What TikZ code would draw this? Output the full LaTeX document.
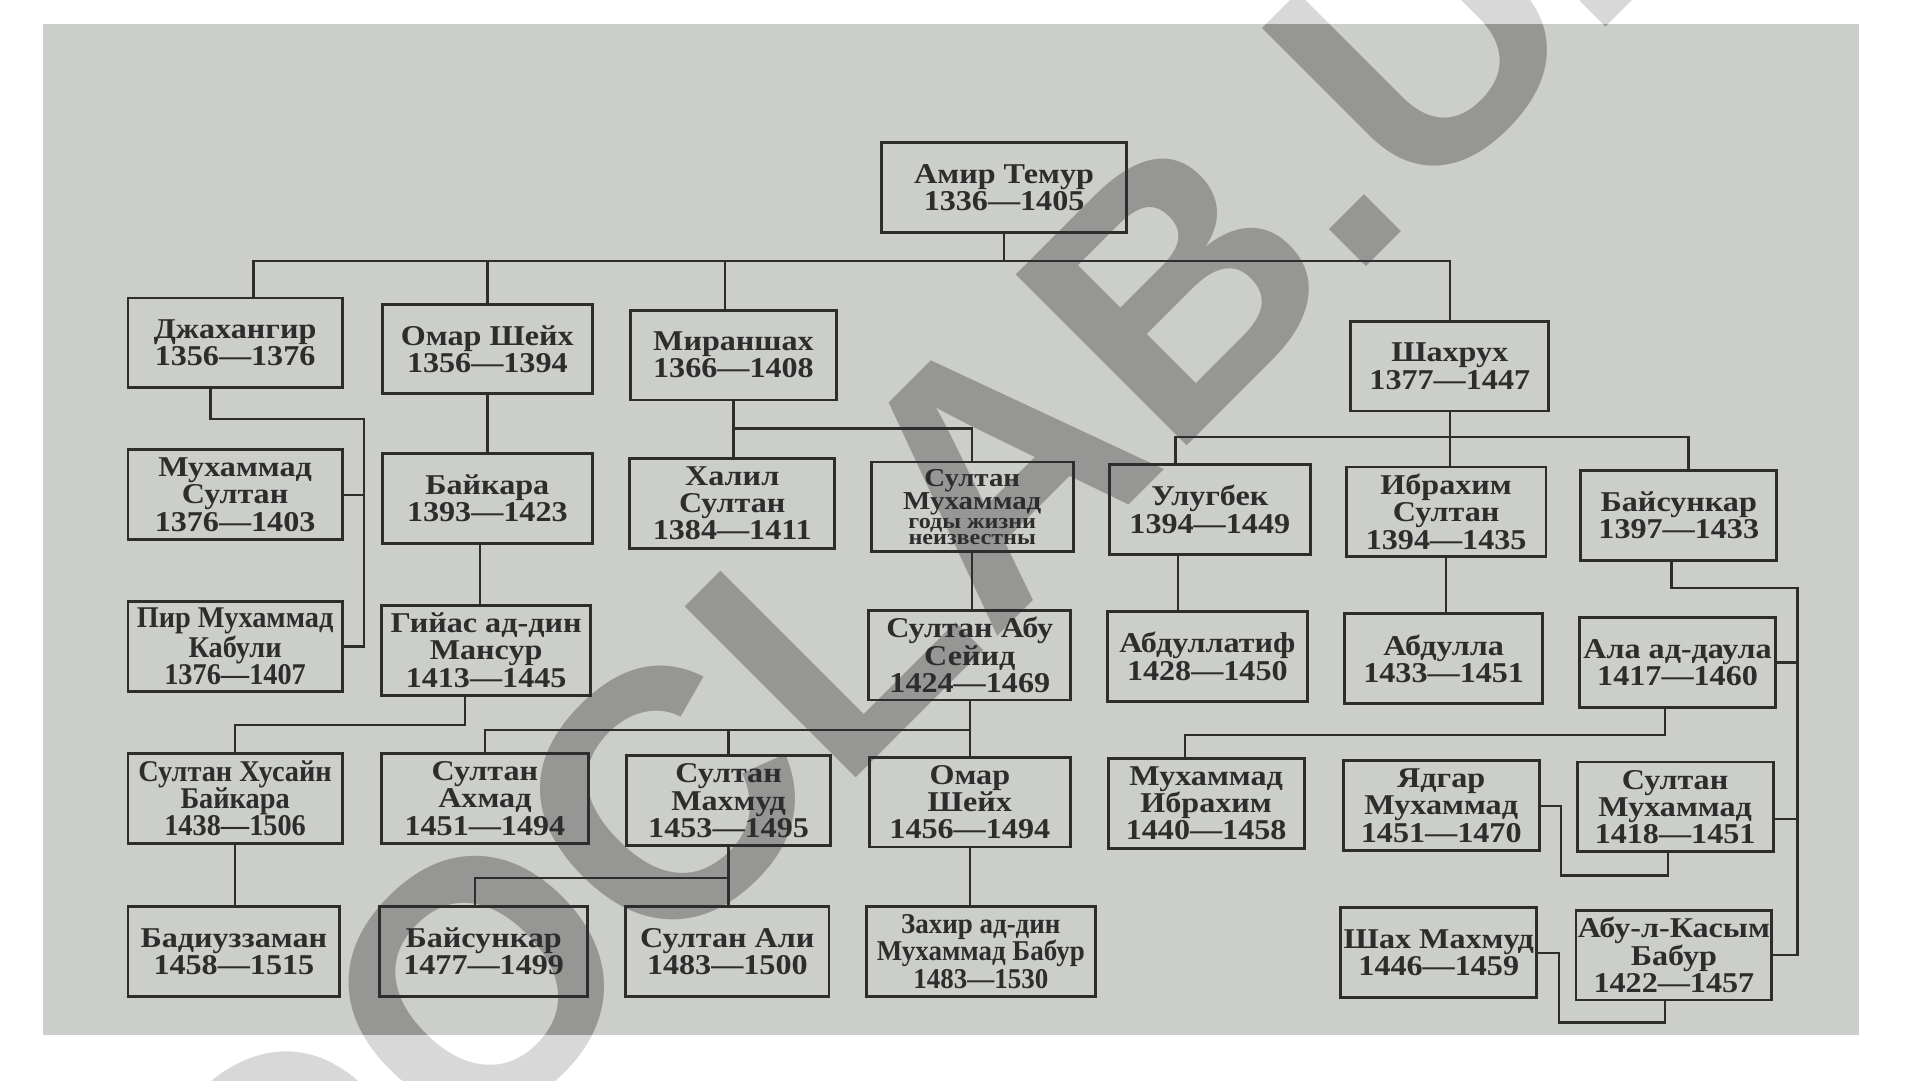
\documentclass[tikz,border=0pt]{standalone}
\usepackage{fontspec}
\setmainfont{Liberation Serif}
\newfontfamily\boxfont[FakeStretch=1.12]{Liberation Serif}
\newfontfamily\slimfont[FakeStretch=0.94]{Liberation Serif}
\newfontfamily\markfont{Liberation Sans}
\usetikzlibrary{calc}

\definecolor{paper}{RGB}{203,206,201}
\definecolor{ink}{RGB}{45,45,45}
\definecolor{wmlight}{RGB}{216,216,216}
\definecolor{wmdark}{RGB}{150,151,149}

\tikzset{
    person/.style={draw=ink, line width=2pt, text=ink, align=center, inner sep=1pt,
        minimum width=4.85cm, minimum height=2.2cm,
        font=\boxfont\bfseries\fontsize{20}{19}\selectfont},
    slim/.style={font=\slimfont\bfseries\fontsize{21}{19}\selectfont},
    link/.style={draw=ink, line width=1.6pt},
    wmark/.style={rotate=45, inner sep=0pt,
        font=\markfont\bfseries\fontsize{245}{245}\selectfont}
}

\begin{document}
\begin{tikzpicture}[x=0.03cm, y=-0.03cm]
    \useasboundingbox (0,0) rectangle (1568,882);
    \fill[white] (0,0) rectangle (1568,882);
    \begin{scope}
        \clip (0,0) rectangle (1568,882);
        \node[wmark, text=wmlight] (markA) at (762,432) {DOCLAB.UZ};
    \end{scope}
    \fill[paper] (35,20) rectangle (1518,845);
    \begin{scope}
        \clip (35,20) rectangle (1518,845);
        \node[wmark, text=wmdark] (markB) at (762,432) {DOCLAB.UZ};
    \end{scope}

    \node[person, minimum width=6cm] (amir) at (820,153) {Амир Темур\\1336—1405};

    \node[person, minimum width=5.25cm] (jahangir) at (192,280) {Джахангир\\1356—1376};
    \node[person, minimum width=5.15cm] (umarsh) at (398,285) {Омар Шейх\\1356—1394};
    \node[person, minimum width=5.03cm] (miransh) at (599,290) {Мираншах\\1366—1408};
    \node[person] (shahrukh) at (1184,299) {Шахрух\\1377—1447};

    \node[person, minimum width=5.25cm] (muhsult) at (192,404) {Мухаммад\\Султан\\1376—1403};
    \node[person, minimum width=5.15cm] (baykara) at (398,407) {Байкара\\1393—1423};
    \node[person, minimum width=5.03cm] (khalil) at (598,411) {Халил\\Султан\\1384—1411};
    \node[person, minimum width=4.95cm, font=\boxfont\bfseries\fontsize{18}{16}\selectfont] (sultmuh) at (794,414)
        {Султан\\Мухаммад\\[-3pt]{\fontsize{15}{14}\selectfont годы жизни}\\[-5pt]{\fontsize{15}{14}\selectfont неизвестны}};
    \node[person, minimum width=4.92cm] (ulugbek) at (988,416) {Улугбек\\1394—1449};
    \node[person, minimum width=4.89cm] (ibrahim) at (1181,418) {Ибрахим\\Султан\\1394—1435};
    \node[person, minimum width=4.8cm] (baysunk) at (1371,421) {Байсункар\\1397—1433};

    \node[person, slim, minimum width=5.25cm] (pirmuh) at (192,528) {Пир Мухаммад\\Кабули\\1376—1407};
    \node[person, minimum width=5.13cm] (giyas) at (397,531) {Гийас ад-дин\\Мансур\\1413—1445};
    \node[person, minimum width=4.95cm] (abusaid) at (792,535) {Султан Абу\\Сейид\\1424—1469};
    \node[person, minimum width=4.89cm] (abdlatif) at (986,536) {Абдуллатиф\\1428—1450};
    \node[person] (abdulla) at (1179,538) {Абдулла\\1433—1451};
    \node[person, minimum width=4.8cm] (aladaula) at (1370,541) {Ала ад-даула\\1417—1460};

    \node[person, slim, minimum width=5.25cm] (husayn) at (192,652) {Султан Хусайн\\Байкара\\1438—1506};
    \node[person, minimum width=5.07cm] (ahmad) at (396,652) {Султан\\Ахмад\\1451—1494};
    \node[person, minimum width=5.01cm] (mahmud) at (595,654) {Султан\\Махмуд\\1453—1495};
    \node[person, minimum width=4.92cm] (umarsh2) at (792,655) {Омар\\Шейх\\1456—1494};
    \node[person, minimum width=4.8cm] (muhibr) at (985,656) {Мухаммад\\Ибрахим\\1440—1458};
    \node[person, minimum width=4.8cm] (yadgar) at (1177,658) {Ядгар\\Мухаммад\\1451—1470};
    \node[person, minimum width=4.8cm] (sultmuh2) at (1368,659) {Султан\\Мухаммад\\1418—1451};

    \node[person, minimum width=5.19cm] (badi) at (191,777) {Бадиуззаман\\1458—1515};
    \node[person, minimum width=5.1cm] (baysunk2) at (395,777) {Байсункар\\1477—1499};
    \node[person, minimum width=4.98cm] (sultali) at (594,777) {Султан Али\\1483—1500};
    \node[person, minimum width=5.6cm, font=\slimfont\bfseries\fontsize{20}{19}\selectfont] (babur) at (801,777)
        {Захир ад-дин\\Мухаммад Бабур\\1483—1530};
    \node[person, minimum width=4.8cm] (shahmahm) at (1175,778) {Шах Махмуд\\1446—1459};
    \node[person, minimum width=4.8cm] (abulkasim) at (1367,780) {Абу-л-Касым\\Бабур\\1422—1457};

    \coordinate (topbus) at (0,213);
    \coordinate (j1) at ($(jahangir.north)+(15,0)$);
    \coordinate (m1) at ($(miransh.north)+(-7,0)$);
    \draw[link] (amir.south) -- (amir.south |- topbus);
    \draw[link] (j1) |- (shahrukh.north |- topbus) -- (shahrukh.north);
    \draw[link] (umarsh.north) -- (umarsh.north |- topbus);
    \draw[link] (m1) -- (m1 |- topbus);

    \coordinate (jbus) at (297,342);
    \draw[link] ($(jahangir.south)+(-20,0)$) |- (jbus) |- (pirmuh.east);
    \draw[link] (muhsult.east) -- (muhsult.east -| jbus);

    \coordinate (mbus) at (0,350);
    \draw[link] (miransh.south) -- (miransh.south |- khalil.north);
    \draw[link] (miransh.south |- mbus) -| (sultmuh.north);

    \coordinate (sbus) at (0,357);
    \coordinate (u1) at ($(ulugbek.north)+(-28,0)$);
    \coordinate (b1) at ($(baysunk.north)+(8,0)$);
    \draw[link] (shahrukh.south) -- (shahrukh.south |- ibrahim.north);
    \draw[link] (u1) |- (b1 |- sbus) -- (b1);

    \draw[link] (umarsh.south) -- (umarsh.south |- baykara.north);
    \coordinate (k1) at ($(baykara.south)+(-6,0)$);
    \draw[link] (k1) -- (k1 |- giyas.north);
    \draw[link] (sultmuh.south) -- (sultmuh.south |- abusaid.north);
    \coordinate (u2) at ($(ulugbek.south)+(-26,0)$);
    \draw[link] (u2) -- (u2 |- abdlatif.north);
    \draw[link] (ibrahim.south) -- (ibrahim.south |- abdulla.north);

    \coordinate (bbus) at (1468,480);
    \coordinate (s2) at ($(sultmuh2.east)+(0,10)$);
    \draw[link] ($(baysunk.south)+(-6,0)$) |- (bbus) |- (abulkasim.east);
    \draw[link] (aladaula.east) -- (aladaula.east -| bbus);
    \draw[link] (s2) -- (s2 -| bbus);

    \coordinate (gbus) at (0,592);
    \coordinate (g1) at ($(giyas.south)+(-17,0)$);
    \draw[link] (g1) |- (husayn.north |- gbus) -- (husayn.north);

    \coordinate (abus) at (0,596);
    \draw[link] (abusaid.south) -- (abusaid.south |- umarsh2.north);
    \draw[link] (ahmad.north) |- (abusaid.south |- abus);
    \draw[link] (mahmud.north) -- (mahmud.north |- abus);

    \coordinate (abus2) at (0,600);
    \coordinate (a1) at ($(aladaula.south)+(-10,0)$);
    \coordinate (mi1) at ($(muhibr.north)+(-17,0)$);
    \draw[link] (a1) |- (mi1 |- abus2) -- (mi1);

    \coordinate (ybus) at (1275,715);
    \coordinate (s3) at ($(sultmuh2.south)+(-6,0)$);
    \draw[link] (yadgar.east) -| (ybus) -| (s3);

    \draw[link] (husayn.south) -- (husayn.south |- badi.north);
    \coordinate (hbus) at (0,717);
    \coordinate (bk1) at ($(baysunk2.north)+(-7,0)$);
    \draw[link] (mahmud.south) -- (mahmud.south |- sultali.north);
    \draw[link] (bk1) |- (mahmud.south |- hbus);
    \draw[link] (umarsh2.south) -- (umarsh2.south |- babur.north);

    \coordinate (kbus) at (1273,835);
    \coordinate (ak1) at ($(abulkasim.south)+(-7,0)$);
    \draw[link] (shahmahm.east) -| (kbus) -| (ak1);
\end{tikzpicture}
\end{document}
